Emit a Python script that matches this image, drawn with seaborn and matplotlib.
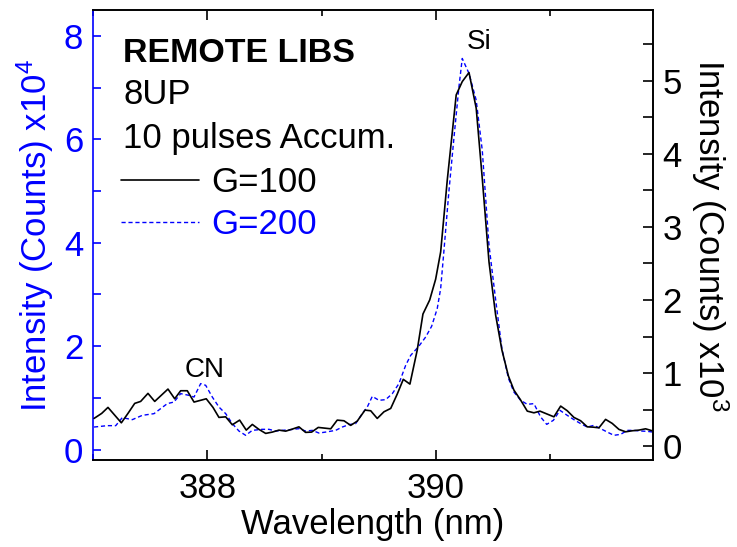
import matplotlib
matplotlib.use("Agg")
import matplotlib.pyplot as plt
import seaborn as sns
import pandas as pd
from matplotlib.ticker import MultipleLocator

# ---------------- data ----------------
g100_wl = [387.009, 387.076, 387.131, 387.248, 387.306, 387.365, 387.417, 387.481, 387.540,
           387.656, 387.715, 387.767, 387.825, 387.884, 387.991, 388.050, 388.102, 388.161,
           388.219, 388.283, 388.341, 388.394, 388.452, 388.511, 388.569, 388.627, 388.686,
           388.744, 388.802, 388.860, 388.913, 388.971, 389.080, 389.137, 389.196, 389.255,
           389.312, 389.380, 389.430, 389.487, 389.546, 389.605, 389.662, 389.715, 389.773,
           389.837, 389.887, 389.946, 389.998, 390.042, 390.100, 390.143, 390.178, 390.231,
           390.290, 390.353, 390.406, 390.465, 390.523, 390.578, 390.635, 390.683, 390.742,
           390.800, 390.858, 390.911, 390.975, 391.033, 391.092, 391.150, 391.208, 391.267,
           391.325, 391.374, 391.427, 391.485, 391.543, 391.602, 391.660, 391.718, 391.776,
           391.835, 391.893]
g100_counts = [0.379, 0.448, 0.530, 0.319, 0.448, 0.585, 0.612, 0.722, 0.612,
               0.781, 0.648, 0.758, 0.758, 0.603, 0.648, 0.530, 0.393, 0.401,
               0.292, 0.356, 0.219, 0.297, 0.229, 0.174, 0.192, 0.219, 0.205,
               0.233, 0.264, 0.188, 0.192, 0.256, 0.237, 0.356, 0.347, 0.284,
               0.342, 0.493, 0.484, 0.379, 0.470, 0.516, 0.712, 0.914, 0.849,
               1.315, 1.808, 2.000, 2.284, 2.658, 3.644, 4.284, 4.808, 4.990,
               5.114, 4.626, 3.667, 2.521, 1.795, 1.315, 0.959, 0.767, 0.630,
               0.479, 0.456, 0.479, 0.438, 0.401, 0.548, 0.484, 0.393, 0.347,
               0.264, 0.260, 0.251, 0.366, 0.311, 0.229, 0.196, 0.210, 0.219,
               0.237, 0.210]

g200_wl = [387.009, 387.125, 387.199, 387.256, 387.344, 387.431, 387.534, 387.650, 387.709,
           387.767, 387.840, 387.884, 387.942, 387.986, 388.044, 388.102, 388.161, 388.219,
           388.277, 388.336, 388.394, 388.481, 388.540, 388.598, 388.656, 388.729, 388.802,
           388.860, 388.919, 388.977, 389.036, 389.123, 389.181, 389.240, 389.298, 389.356,
           389.400, 389.444, 389.502, 389.561, 389.619, 389.677, 389.736, 389.780, 389.846,
           389.911, 389.963, 390.012, 390.042, 390.071, 390.115, 390.159, 390.202, 390.231,
           390.290, 390.353, 390.406, 390.465, 390.523, 390.578, 390.635, 390.683, 390.742,
           390.800, 390.858, 390.917, 390.970, 391.028, 391.086, 391.150, 391.208, 391.267,
           391.325, 391.383, 391.442, 391.500, 391.558, 391.617, 391.675, 391.733, 391.792,
           391.850, 391.900]
g200_counts = [0.437, 0.464, 0.464, 0.619, 0.580, 0.663, 0.696, 0.890, 0.921,
               1.083, 1.050, 1.017, 1.277, 1.244, 1.017, 0.824, 0.696, 0.503,
               0.360, 0.277, 0.373, 0.393, 0.393, 0.360, 0.373, 0.387, 0.406,
               0.360, 0.373, 0.321, 0.340, 0.373, 0.437, 0.484, 0.503, 0.696,
               0.824, 1.031, 0.954, 0.967, 1.083, 1.277, 1.631, 1.824, 1.985,
               2.178, 2.385, 2.727, 3.114, 3.855, 5.015, 6.046, 7.014, 7.563,
               7.273, 6.756, 5.789, 3.950, 2.900, 1.950, 1.380, 1.114, 0.954,
               0.876, 0.890, 0.631, 0.489, 0.567, 0.760, 0.663, 0.580, 0.503,
               0.437, 0.470, 0.406, 0.340, 0.277, 0.296, 0.373, 0.373, 0.360,
               0.354, 0.340]

x_ticks = [388, 390]
left_ticks = [0, 2, 4, 6, 8]
right_ticks = [0, 1, 2, 3, 4, 5]

# ---------------- style ----------------
sns.set_style("ticks")
plt.rcParams['font.family'] = ['Liberation Sans', 'DejaVu Sans']
plt.rcParams['mathtext.default'] = 'regular'
plt.rcParams['text.color'] = 'black'
plt.rcParams['axes.labelcolor'] = 'black'
plt.rcParams['xtick.color'] = 'black'
plt.rcParams['ytick.color'] = 'black'
plt.rcParams['axes.edgecolor'] = 'black'
FS = 25
BLUE = '#0000ff'

df100 = pd.DataFrame({'wl': g100_wl, 'counts': g100_counts})
df200 = pd.DataFrame({'wl': g200_wl, 'counts': g200_counts})

fig = plt.figure(figsize=(7.37, 5.47), dpi=100)
ax = fig.add_axes([93 / 737, 87 / 547, 560 / 737, 450 / 547])
ax2 = ax.twinx()

sns.lineplot(data=df200, x='wl', y='counts', ax=ax, color=BLUE, lw=1.0,
             linestyle=(0, (3, 2)), estimator=None, sort=False)
sns.lineplot(data=df100, x='wl', y='counts', ax=ax2, color='black', lw=1.2,
             estimator=None, sort=False)

ax.set_xlim(387.0, 391.9)
ax.set_ylim(-0.2, 8.5)
ax2.set_ylim(-0.19, 5.97)

ax.set_xticks(x_ticks)
ax.xaxis.set_minor_locator(MultipleLocator(1))
ax.set_yticks(left_ticks)
ax.yaxis.set_minor_locator(MultipleLocator(1))
ax2.set_yticks(right_ticks)
ax2.yaxis.set_minor_locator(MultipleLocator(0.5))

ax.tick_params(axis='x', which='both', direction='in', top=True, bottom=True,
               labelsize=FS, pad=9, width=1.2, color='black', labelcolor='black')
ax.tick_params(axis='x', which='major', length=7)
ax.tick_params(axis='x', which='minor', length=4)
ax.tick_params(axis='y', which='both', direction='in', left=True, right=False,
               labelsize=FS, pad=7, width=1.2, color=BLUE, labelcolor=BLUE, length=6)
ax2.tick_params(axis='y', which='both', direction='in', right=True,
                labelsize=FS, pad=7, width=1.2, color='black', labelcolor='black',
                length=7)

for s in ['top', 'bottom', 'right']:
    ax.spines[s].set_color('black')
    ax.spines[s].set_linewidth(1.2)
ax.spines['left'].set_color(BLUE)
ax.spines['left'].set_linewidth(1.2)
ax2.spines['left'].set_visible(False)
for s in ['top', 'bottom', 'right']:
    ax2.spines[s].set_linewidth(1.2)
    ax2.spines[s].set_color('black')

ax.set_xlabel('Wavelength (nm)', fontsize=FS, labelpad=2, color='black')
ax.set_ylabel('Intensity (Counts) x10$^4$', fontsize=FS, color=BLUE, labelpad=6)
ax2.set_ylabel('Intensity (Counts) x10$^3$', fontsize=FS, rotation=270,
               va='bottom', labelpad=5, color='black')

# annotations
ax.text(0.054, (460 - 61.7) / 450, 'REMOTE LIBS', transform=ax.transAxes,
        fontsize=FS - 0.5, fontweight='bold', va='baseline', ha='left', color='black')
ax.text(0.054, (460 - 104) / 450, '8UP', transform=ax.transAxes,
        fontsize=FS, va='baseline', ha='left', color='black')
ax.text(0.054, (460 - 148.3) / 450, '10 pulses Accum.', transform=ax.transAxes,
        fontsize=FS, va='baseline', ha='left', color='black')
ax.text(387.98, (460 - 376.7) / 450, 'CN', transform=ax.get_xaxis_transform(),
        fontsize=FS - 5, va='baseline', ha='center', color='black')
ax.text(390.377, (460 - 49.3) / 450, 'Si', transform=ax.get_xaxis_transform(),
        fontsize=FS - 5, va='baseline', ha='center', color='black')

h100 = ax2.lines[0]
h200 = ax.lines[0]
leg = ax2.legend([h100, h200], ['G=100', 'G=200'], loc='upper left',
                 bbox_to_anchor=(0.05, 0.654), frameon=False, fontsize=FS,
                 handlelength=2.25, handletextpad=0.35, labelspacing=0.26,
                 borderpad=0, borderaxespad=0, labelcolor=['black', BLUE])

fig.savefig('out.png', dpi=100)
